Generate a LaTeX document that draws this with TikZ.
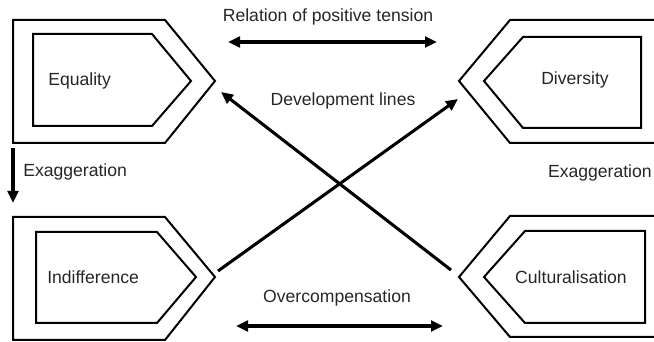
\documentclass[tikz,border=0pt]{standalone}
\usepackage{fontspec}
\setmainfont{Liberation Sans}
\usetikzlibrary{arrows.meta}
\begin{document}
\begin{tikzpicture}[x=0.75pt,y=-0.75pt,
  box/.style={line width=1.5pt,line join=miter},
  lbl/.style={font=\fontsize{13.2pt}{15pt}\selectfont,inner sep=0pt,text=black!85},
  arr/.style={line width=2.3pt,-{Triangle[length=9pt,width=8pt]}},
  darr/.style={line width=2.3pt,{Triangle[length=9pt,width=8pt]}-{Triangle[length=9pt,width=8pt]}}]
\useasboundingbox (0,0) rectangle (654,342);
\clip (0,0) rectangle (654,342);
% Equality
\draw[box] (13,20) -- (165,20) -- (215,81) -- (165,143) -- (13,143) -- cycle;
\draw[box] (33,34) -- (152,34) -- (191,81) -- (152,126) -- (33,126) -- cycle;
\node[lbl,anchor=west] (eq) at (48,81) {Equality};
% Indifference
\draw[box] (13,217) -- (165,217) -- (215,277) -- (165,340) -- (13,340) -- cycle;
\draw[box] (36,232) -- (157,232) -- (196,277) -- (157,323) -- (36,323) -- cycle;
\node[lbl,anchor=west] (ind) at (47,277) {Indifference};
% Diversity
\draw[box] (670,20) -- (510,20) -- (459,81) -- (510,143) -- (670,143);
\draw[box] (641,37) -- (523,37) -- (484,81) -- (523,128) -- (641,128) -- cycle;
\node[lbl] (div) at (575,80) {Diversity};
% Culturalisation
\draw[box] (670,216) -- (510,216) -- (459,277) -- (510,337) -- (670,337);
\draw[box] (645,231) -- (525,231) -- (484,277) -- (525,323) -- (645,323) -- cycle;
\node[lbl] (cul) at (571,277) {Culturalisation};
% labels
\node[lbl] (rel) at (328,17) {Relation of positive tension};
\node[lbl] (dev) at (343,101) {Development lines};
\node[lbl] (over) at (337,298) {Overcompensation};
\node[lbl,anchor=west] (exl) at (23,172) {Exaggeration};
\node[lbl,anchor=east] (exr) at (652,173) {Exaggeration};
% arrow end points
\coordinate (r1) at (228,42);
\coordinate (r2) at (437,42);
\coordinate (o1) at (236,326);
\coordinate (o2) at (443,326);
\coordinate (ea) at (13,148);
\coordinate (eb) at (13,203);
\coordinate (c1) at (451,270);
\coordinate (c2) at (221,92);
\coordinate (i1) at (218,271);
\coordinate (i2) at (458,99);
\draw[darr] (r1) -- (r2);
\draw[darr] (o1) -- (o2);
\draw[arr] (ea) -- (eb);
\draw[arr] (c1) -- (c2);
\draw[arr] (i1) -- (i2);
\end{tikzpicture}
\end{document}
